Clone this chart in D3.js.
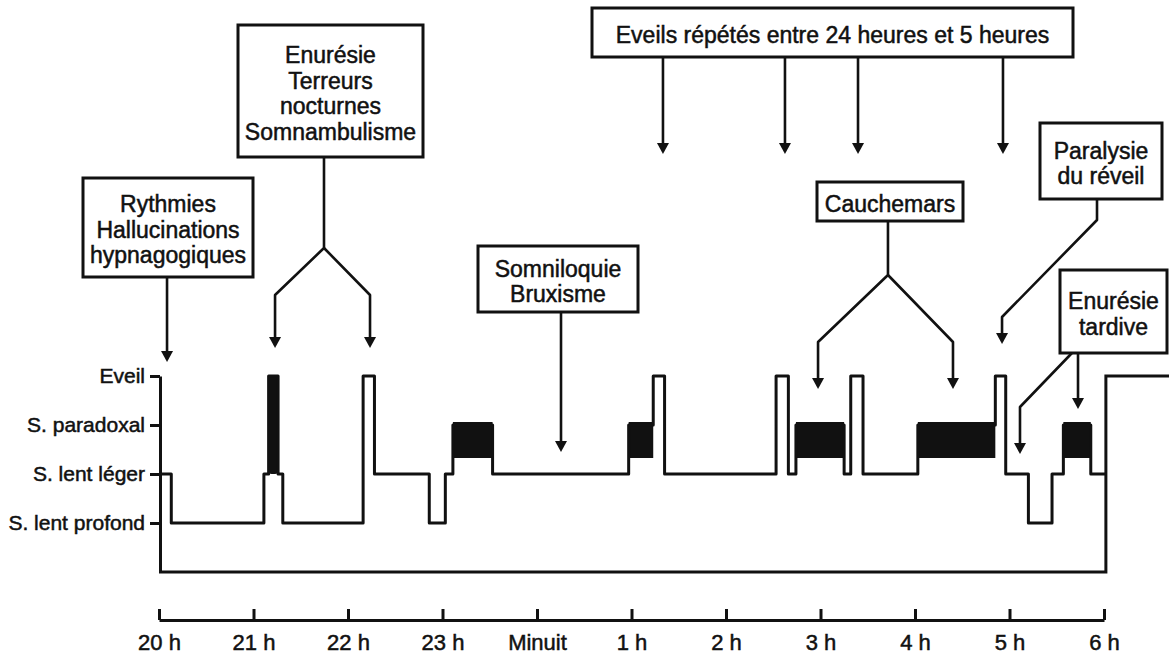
<!DOCTYPE html>
<html>
<head>
<meta charset="utf-8">
<style>
 body{ margin:0; background:#fff; }
 svg text{ font-family:"Liberation Sans", Arial, sans-serif; fill:#111; stroke:#111; stroke-width:0.5px; }
</style>
<script src="https://cdnjs.cloudflare.com/ajax/libs/d3/7.8.5/d3.min.js"></script>
<title>Hypnogramme et parasomnies</title>
</head>
<body>
<script>
// stades de sommeil (axe vertical)
const niveaux = ["Eveil", "S. paradoxal", "S. lent léger", "S. lent profond"];
// graduations horaires (0 = 20 h)
const heures = ["20 h", "21 h", "22 h", "23 h", "Minuit", "1 h", "2 h", "3 h", "4 h", "5 h", "6 h"];
// hypnogramme : debut de chaque phase (en heures depuis 20 h) et stade (index dans niveaux)
const debuts = [0, 0.13, 1.11, 1.16, 1.26, 1.31, 2.16, 2.28, 2.86, 3.03,
                3.11, 3.53, 4.97, 5.23, 5.35, 6.53, 6.66, 6.74, 7.25, 7.32,
                7.45, 8.03, 8.85, 8.96, 9.2, 9.45, 9.57, 9.86];
const stades = [2, 3, 2, 0, 2, 3, 0, 2, 3, 2,
                1, 2, 1, 0, 2, 0, 2, 1, 2, 0,
                2, 1, 0, 2, 3, 2, 1, 2];
const finNuit = 10.02;
// bref episode paradoxal noirci (21 h)
const pics = [[1.16, 1.26]];

const w = 1169, h = 659;

const svg = d3.select("body").append("svg")
  .attr("width", w).attr("height", h);

const x = d3.scaleLinear().domain([0, 10]).range([159, 1104]);
const y = d3.scalePoint().domain([...niveaux, "base"]).range([376, 572]);

// axe vertical (stades)
const yAxis = svg.append("g")
  .attr("transform", "translate(160,0)")
  .call(d3.axisLeft(y).tickValues(niveaux).tickSizeInner(10).tickSizeOuter(0).tickPadding(5));
yAxis.selectAll("path, line").attr("stroke", "#111").attr("stroke-width", 3);
yAxis.selectAll("text").attr("font-size", 21).attr("font-family", null);

// axe horaire
const xAxis = svg.append("g")
  .attr("transform", "translate(0,620)")
  .call(d3.axisBottom(x).tickValues(d3.range(11)).tickFormat(i => heures[i])
    .tickSizeInner(-11).tickSizeOuter(0).tickPadding(14));
xAxis.selectAll("path, line").attr("stroke", "#111").attr("stroke-width", 3);
xAxis.selectAll("text").attr("font-size", 22).attr("font-family", null);

// cadre : base de la nuit puis eveil apres 6 h
svg.append("path")
  .attr("d", "M" + x(0) + "," + y("base") + "H" + x(finNuit) + "V" + y("Eveil") + "H" + w)
  .attr("fill", "none").attr("stroke", "#111").attr("stroke-width", 3);

// blocs de sommeil paradoxal
const blocs = [];
stades.forEach((s, i) => {
  if (s === 1) blocs.push([debuts[i], i + 1 < debuts.length ? debuts[i + 1] : finNuit]);
});
svg.selectAll("rect.bloc").data(blocs).enter().append("rect")
  .attr("class", "bloc")
  .attr("x", d => x(d[0]))
  .attr("width", d => x(d[1]) - x(d[0]))
  .attr("y", y("S. paradoxal") - 3)
  .attr("height", 36)
  .attr("fill", "#111");

svg.selectAll("rect.pic").data(pics).enter().append("rect")
  .attr("class", "pic")
  .attr("x", d => x(d[0]))
  .attr("width", d => x(d[1]) - x(d[0]))
  .attr("y", y("Eveil"))
  .attr("height", y("S. lent léger") - y("Eveil"))
  .attr("rx", 3)
  .attr("fill", "#111");

// hypnogramme
const points = debuts.map((d, i) => [d, stades[i]]);
points.push([finNuit, stades[stades.length - 1]]);
svg.append("path")
  .datum(points)
  .attr("d", d3.line().x(d => x(d[0])).y(d => y(niveaux[d[1]])).curve(d3.curveStepAfter))
  .attr("fill", "none").attr("stroke", "#111").attr("stroke-width", 3)
  .attr("stroke-linejoin", "round");

// annotations : cadres et fleches (x des fleches en heures)
const annotations = [
  {lignes: ["Rythmies", "Hallucinations", "hypnagogiques"], cadre: [83, 178, 253, 277],
   traits: [[[0.085, 277], [0.085, 362]]]},
  {lignes: ["Enurésie", "Terreurs", "nocturnes", "Somnambulisme"], cadre: [238, 25, 423, 157],
   traits: [[[1.746, 157], [1.746, 248], [1.228, 295], [1.228, 348]],
            [[1.746, 248], [2.233, 295], [2.233, 348]]]},
  {lignes: ["Somniloquie", "Bruxisme"], cadre: [478, 246, 638, 312],
   traits: [[[4.254, 312], [4.254, 452]]]},
  {lignes: ["Eveils répétés entre 24 heures et 5 heures"], cadre: [592, 8, 1073, 57],
   traits: [[[5.333, 57], [5.333, 154]], [[6.624, 57], [6.624, 154]],
            [[7.397, 57], [7.397, 154]], [[8.931, 57], [8.931, 154]]]},
  {lignes: ["Cauchemars"], cadre: [817, 182, 963, 221],
   traits: [[[7.714, 221], [7.714, 275], [6.974, 342], [6.974, 389]],
            [[7.714, 275], [8.402, 342], [8.402, 389]]]},
  {lignes: ["Paralysie", "du réveil"], cadre: [1040, 123, 1162, 199],
   traits: [[[9.926, 199], [9.926, 220], [8.921, 317], [8.921, 344]]]},
  {lignes: ["Enurésie", "tardive"], cadre: [1060, 270, 1167, 353],
   traits: [[[9.661, 353], [9.111, 407], [9.111, 454]], [[9.725, 353], [9.725, 409]]]}
];

const annot = svg.append("g");
annotations.forEach(a => {
  const [x0, y0, x1, y1] = a.cadre;
  annot.append("rect")
    .attr("x", x0).attr("y", y0).attr("width", x1 - x0).attr("height", y1 - y0)
    .attr("fill", "#fff").attr("stroke", "#111").attr("stroke-width", 3);
  const cy = (y0 + y1) / 2 + 2;
  a.lignes.forEach((l, i) => {
    annot.append("text")
      .attr("x", (x0 + x1) / 2)
      .attr("y", cy + (i - (a.lignes.length - 1) / 2) * 25.5)
      .attr("dy", "0.36em")
      .attr("text-anchor", "middle")
      .attr("font-size", 23)
      .text(l);
  });
  a.traits.forEach(t => {
    const pts = t.map(p => [x(p[0]), p[1]]);
    const tip = pts[pts.length - 1];
    const corps = pts.slice(0, -1).concat([[tip[0], tip[1] - 8]]);
    annot.append("path")
      .attr("d", d3.line()(corps))
      .attr("fill", "none").attr("stroke", "#111").attr("stroke-width", 2.6)
      .attr("stroke-linejoin", "round");
    annot.append("path")
      .attr("d", "M" + (tip[0] - 6) + "," + (tip[1] - 11) + "L" + (tip[0] + 6) + "," + (tip[1] - 11) + "L" + tip[0] + "," + tip[1] + "Z")
      .attr("fill", "#111");
  });
});
</script>
</body>
</html>
